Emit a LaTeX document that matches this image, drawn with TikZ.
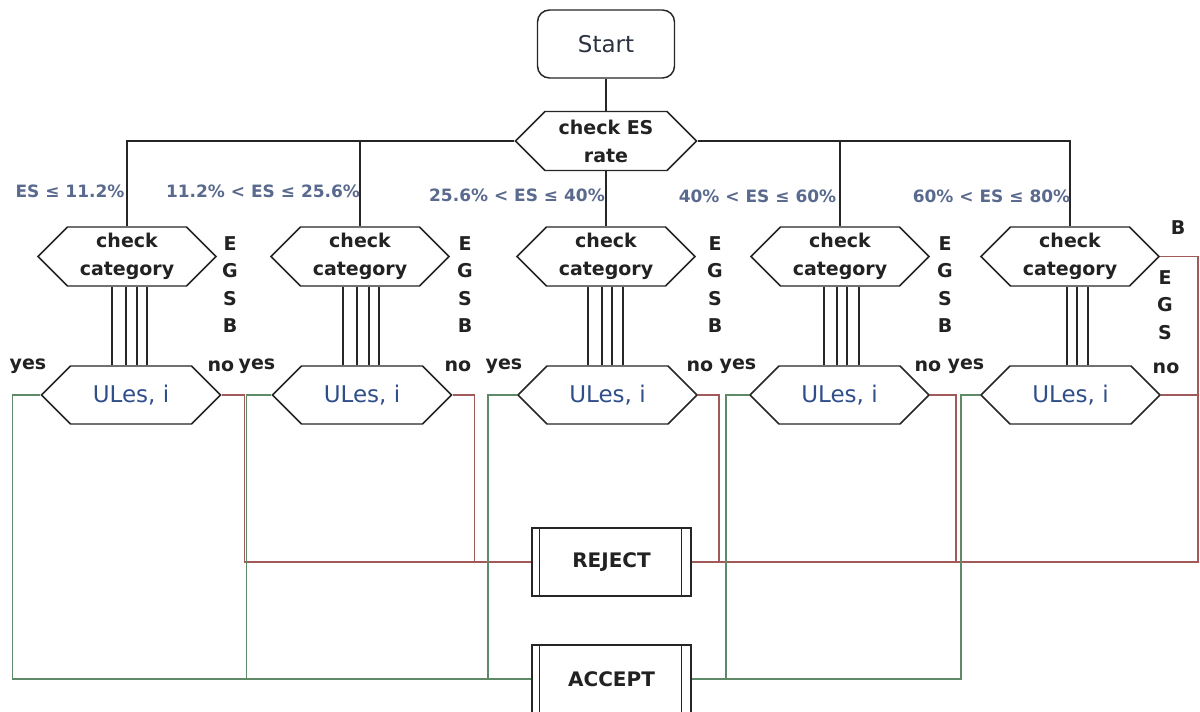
\documentclass[tikz,border=0pt]{standalone}
\usepackage{fontspec}
\setmainfont{DejaVu Sans}
\usetikzlibrary{shapes.symbols,calc}
\definecolor{esblue}{HTML}{5A6A8E}
\definecolor{ulesblue}{HTML}{2F4F8A}
\definecolor{startc}{HTML}{2A3140}
\definecolor{rline}{HTML}{A05A5A}
\definecolor{gline}{HTML}{5E8A68}
\definecolor{txt}{HTML}{222222}
\begin{document}
\begin{tikzpicture}[x=0.75pt,y=-0.75pt,
  outline/.style={draw=black!85, line width=1.1pt},
  hexbox/.style={outline, shape=signal, signal to=east and west, signal pointer angle=90,
    fill=white, inner sep=0pt, align=center},
  cathex/.style={hexbox, minimum width=178*0.75pt, minimum height=59*0.75pt,
    font=\bfseries\fontsize{14.25}{21}\selectfont, text=txt},
  uleshex/.style={hexbox, minimum width=179*0.75pt, minimum height=58*0.75pt,
    font=\fontsize{17.25}{21}\selectfont, text=ulesblue},
  procbox/.style={outline, rectangle, fill=white, minimum width=159*0.75pt, minimum height=68*0.75pt,
    font=\bfseries\fontsize{15}{18}\selectfont, text=txt},
  eslab/.style={font=\bfseries\fontsize{12.75}{15}\selectfont, text=esblue, inner sep=0pt},
  ynlab/.style={font=\bfseries\fontsize{14.25}{17}\selectfont, text=txt, inner sep=0pt},
  catlab/.style={font=\bfseries\fontsize{14.25}{20.6}\selectfont, text=txt, inner sep=0pt, align=center},
  conn/.style={draw=black!85, line width=1.1pt},
  rconn/.style={draw=rline, line width=1pt},
  gconn/.style={draw=gline, line width=1pt}]
\useasboundingbox (0,0) rectangle (1200,711);
\clip (0,0) rectangle (1200,711);
\fill[white] (0,0) rectangle (1200,711);

% top
\node[outline, rounded corners=9pt, minimum width=137*0.75pt, minimum height=68*0.75pt,
  font=\fontsize{17.25}{20}\selectfont, text=startc] (start) at (606,44) {Start};
\node[hexbox, minimum width=181*0.75pt, minimum height=59*0.75pt,
  font=\bfseries\fontsize{14.25}{21}\selectfont, text=txt] (checkES) at (606,141) {check ES\\rate};

% category hexagons
\node[cathex] (cat1) at (127,256.5) {check\\category};
\node[cathex] (cat2) at (360,256.5) {check\\category};
\node[cathex] (cat3) at (606,256.5) {check\\category};
\node[cathex] (cat4) at (840,256.5) {check\\category};
\node[cathex] (cat5) at (1070,256.5) {check\\category};

% ULes hexagons
\node[uleshex] (ules1) at (131,395) {ULes, i};
\node[uleshex] (ules2) at (362,395) {ULes, i};
\node[uleshex] (ules3) at (607.5,395) {ULes, i};
\node[uleshex] (ules4) at (839.5,395) {ULes, i};
\node[uleshex] (ules5) at (1070.5,395) {ULes, i};

% result boxes
\node[procbox] (reject) at (611.5,562) {REJECT};
\node[procbox] (accept) at (611.5,679) {ACCEPT};
\foreach \b in {reject,accept}{
  \draw[conn] ($(\b.north west)+(8,0)$) -- ($(\b.south west)+(8,0)$);
  \draw[conn] ($(\b.north east)+(-10,0)$) -- ($(\b.south east)+(-10,0)$);
}

% top connectors
\draw[conn] (start.south) -- (checkES.north);
\draw[conn] (checkES.west) -| (cat1.north);
\draw[conn] (checkES.west) -| (cat2.north);
\draw[conn] (checkES.south) -- (cat3.north);
\draw[conn] (checkES.east) -| (cat4.north);
\draw[conn] (checkES.east) -| (cat5.north);

% category to ULes lines
\foreach \d in {-19,-5,6,16} \draw[conn] ($(ules1.north)+(\d,0)$) coordinate (t) -- (t |- cat1.south);
\foreach \d in {-19,-5,7,17} \draw[conn] ($(ules2.north)+(\d,0)$) coordinate (t) -- (t |- cat2.south);
\foreach \d in {-19.5,-5.5,4.5,15.5} \draw[conn] ($(ules3.north)+(\d,0)$) coordinate (t) -- (t |- cat3.south);
\foreach \d in {-15.5,-2.5,7.5,19.5} \draw[conn] ($(ules4.north)+(\d,0)$) coordinate (t) -- (t |- cat4.south);
\foreach \d in {-3.5,6.5,17.5} \draw[conn] ($(ules5.north)+(\d,0)$) coordinate (t) -- (t |- cat5.south);

% reject connectors
\draw[rconn] (ules1.east) -- ++(23,0) |- (reject.west);
\draw[rconn] (ules2.east) -- ++(22,0) |- (reject.west);
\draw[rconn] (ules3.east) -- ++(21,0) |- (reject.east);
\draw[rconn] (ules4.east) -- ++(26,0) |- (reject.east);
\draw[rconn] (cat5.east) -- ++(38,0) coordinate (r5) |- (reject.east);
\draw[rconn] (ules5.east) -- (ules5.east -| r5);

% accept connectors
\draw[gconn] (ules1.west) -- ++(-28,0) |- (accept.west);
\draw[gconn] (ules2.west) -- ++(-25,0) |- (accept.west);
\draw[gconn] (ules3.west) -- ++(-29,0) |- (accept.west);
\draw[gconn] (ules4.west) -- ++(-23,0) |- (accept.east);
\draw[gconn] (ules5.west) -- ++(-19,0) |- (accept.east);

% ES range labels
\node[eslab] (es1) at (70,191) {ES ≤ 11.2\%};
\node[eslab] (es2) at (263,191) {11.2\% < ES ≤ 25.6\%};
\node[eslab] (es3) at (517,195) {25.6\% < ES ≤ 40\%};
\node[eslab] (es4) at (757.5,196) {40\% < ES ≤ 60\%};
\node[eslab] (es5) at (991.5,196) {60\% < ES ≤ 80\%};

% category letters
\node[catlab] (egsb1) at (230,284.5) {E\\G\\S\\B};
\node[catlab] (egsb2) at (465,284.5) {E\\G\\S\\B};
\node[catlab] (egsb3) at (715,284.5) {E\\G\\S\\B};
\node[catlab] (egsb4) at (945,284.5) {E\\G\\S\\B};
\node[catlab] (b5) at (1178,228) {B};
\node[catlab] (egs5) at (1165,305) {E\\G\\S};

% yes / no labels
\node[ynlab] (yes1) at (28,366) {yes};
\node[ynlab] (no1) at (221,366) {no};
\node[ynlab] (yes2) at (257,366) {yes};
\node[ynlab] (no2) at (458,366) {no};
\node[ynlab] (yes3) at (504,366) {yes};
\node[ynlab] (no3) at (700,366) {no};
\node[ynlab] (yes4) at (738,366) {yes};
\node[ynlab] (no4) at (928,366) {no};
\node[ynlab] (yes5) at (966,366) {yes};
\node[ynlab] (no5) at (1166,368) {no};
\end{tikzpicture}
\end{document}
